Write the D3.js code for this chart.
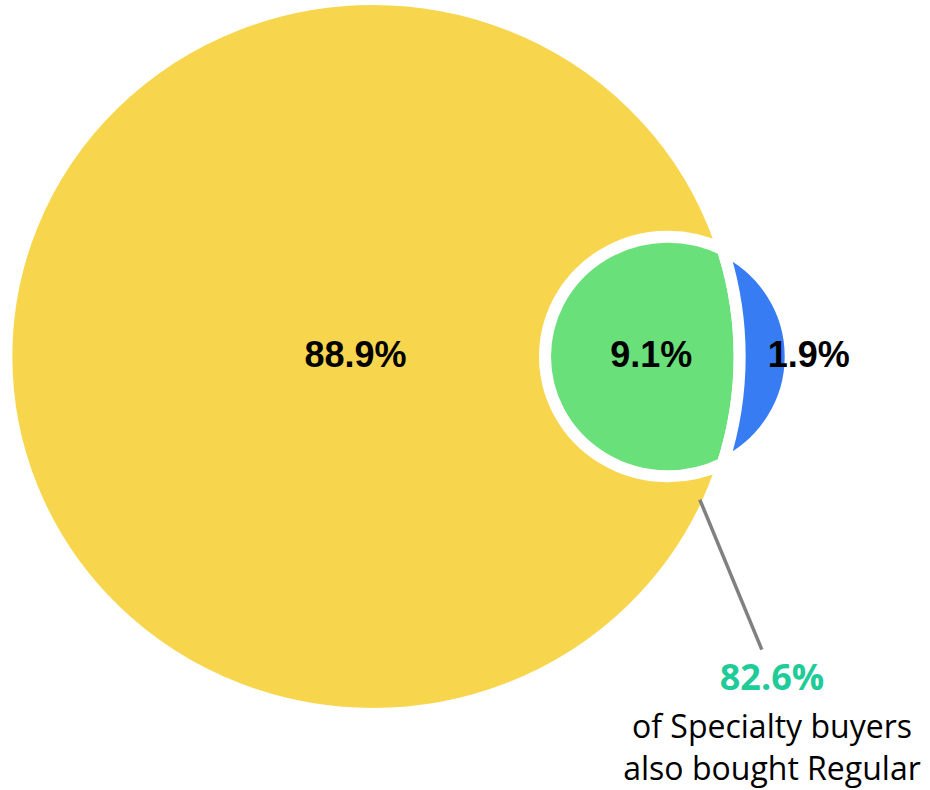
<!DOCTYPE html>
<html>
<head>
<meta charset="utf-8">
<script src="https://cdn.jsdelivr.net/npm/d3@7"></script>
<style>
  html, body { margin: 0; padding: 0; background: #ffffff; }
  svg { display: block; }
</style>
</head>
<body>
<svg id="chart" width="930" height="790"></svg>
<script>
// ---- data ----
const categories = ["Regular only", "Both", "Specialty only"];
const values = [88.9, 9.1, 1.9];
const valueLabels = ["88.9%", "9.1%", "1.9%"];
const colors = ["#f7d64e", "#69e07a", "#387cf4"];
const calloutValue = "82.6%";
const calloutLines = ["of Specialty buyers", "also bought Regular"];

// ---- geometry from data ----
const areaA = values[0] + values[1];   // Regular
const areaB = values[1] + values[2];   // Specialty
const RA = Math.sqrt(areaA / Math.PI);
const RB = Math.sqrt(areaB / Math.PI);

function lensArea(d, r, R) {
  if (d >= r + R) return 0;
  if (d <= Math.abs(R - r)) return Math.PI * Math.min(r, R) ** 2;
  const a1 = r * r * Math.acos((d * d + r * r - R * R) / (2 * d * r));
  const a2 = R * R * Math.acos((d * d + R * R - r * r) / (2 * d * R));
  const a3 = 0.5 * Math.sqrt((-d + r + R) * (d + r - R) * (d - r + R) * (d + r + R));
  return a1 + a2 - a3;
}
// solve centre distance so that the overlap area equals the "Both" value
let lo = Math.abs(RA - RB), hi = RA + RB;
for (let i = 0; i < 80; i++) {
  const mid = (lo + hi) / 2;
  if (lensArea(mid, RB, RA) > values[1]) lo = mid; else hi = mid;
}
const D = (lo + hi) / 2;

// ---- scales (data units -> pixels) ----
const x = d3.scaleLinear().domain([0, 1]).range([373, 373 + 65.65]);
const y = d3.scaleLinear().domain([0, 1]).range([356.5, 356.5 + 64.0]);

const cxA = x(0), cxB = x(D), cy = y(0);
const rxA = x(RA) - x(0), ryA = y(RA) - y(0);
const rxB = x(RB) - x(0), ryB = y(RB) - y(0);

// intersection of the two outlines (symmetric about the centre line)
function f(t) {
  const px = cxB + rxB * Math.cos(t), py = ryB * Math.sin(t);
  return ((px - cxA) / rxA) ** 2 + (py / ryA) ** 2 - 1;
}
let t0 = 0, t1 = Math.PI;
for (let i = 0; i < 80; i++) {
  const m = (t0 + t1) / 2;
  if (f(m) > 0) t0 = m; else t1 = m;
}
const th = (t0 + t1) / 2;
const ix = cxB + rxB * Math.cos(th);
const iy = ryB * Math.sin(th);
const P1 = [ix, cy - iy], P2 = [ix, cy + iy];

const svg = d3.select("#chart");
const STROKE = 12;

// Regular only (whole Regular ellipse underneath)
svg.append("ellipse")
  .attr("cx", cxA).attr("cy", cy).attr("rx", rxA).attr("ry", ryA)
  .attr("fill", colors[0]).attr("stroke", "#fff").attr("stroke-width", STROKE);

// Both (intersection)
svg.append("path")
  .attr("d", `M${P1[0]},${P1[1]} A${rxB},${ryB} 0 1 0 ${P2[0]},${P2[1]} A${rxA},${ryA} 0 0 0 ${P1[0]},${P1[1]} Z`)
  .attr("fill", colors[1]).attr("stroke", "#fff").attr("stroke-width", STROKE);

// Specialty only (crescent)
svg.append("path")
  .attr("d", `M${P1[0]},${P1[1]} A${rxB},${ryB} 0 0 1 ${P2[0]},${P2[1]} A${rxA},${ryA} 0 0 0 ${P1[0]},${P1[1]} Z`)
  .attr("fill", colors[2]).attr("stroke", "#fff").attr("stroke-width", STROKE);

// value labels
const labelX = [cxA - 17.5, cxB - 16.5, cxB + 141];
svg.selectAll("text.val")
  .data(valueLabels)
  .join("text")
  .attr("class", "val")
  .attr("x", (d, i) => labelX[i])
  .attr("y", cy + 10.5)
  .attr("text-anchor", "middle")
  .attr("font-family", "'Liberation Sans', Arial, sans-serif")
  .attr("font-weight", "bold")
  .attr("font-size", 36)
  .attr("fill", "#000")
  .text(d => d);

// callout
svg.append("line")
  .attr("x1", P2[0] - 23).attr("y1", P2[1] + 36)
  .attr("x2", P2[0] + 39).attr("y2", P2[1] + 186)
  .attr("stroke", "#808080").attr("stroke-width", 3.5);

const tx = 772;
svg.append("text")
  .attr("x", tx).attr("y", 690)
  .attr("text-anchor", "middle")
  .attr("font-family", "'Open Sans', 'Noto Sans', sans-serif")
  .attr("font-weight", "bold")
  .attr("font-size", 36)
  .attr("fill", "#1fcb98")
  .text(calloutValue);

svg.selectAll("text.note")
  .data(calloutLines)
  .join("text")
  .attr("class", "note")
  .attr("x", tx)
  .attr("y", (d, i) => 738 + i * 42)
  .attr("text-anchor", "middle")
  .attr("font-family", "'Open Sans', 'Noto Sans', sans-serif")
  .attr("font-size", 32)
  .attr("fill", "#000")
  .text(d => d);
</script>
</body>
</html>
